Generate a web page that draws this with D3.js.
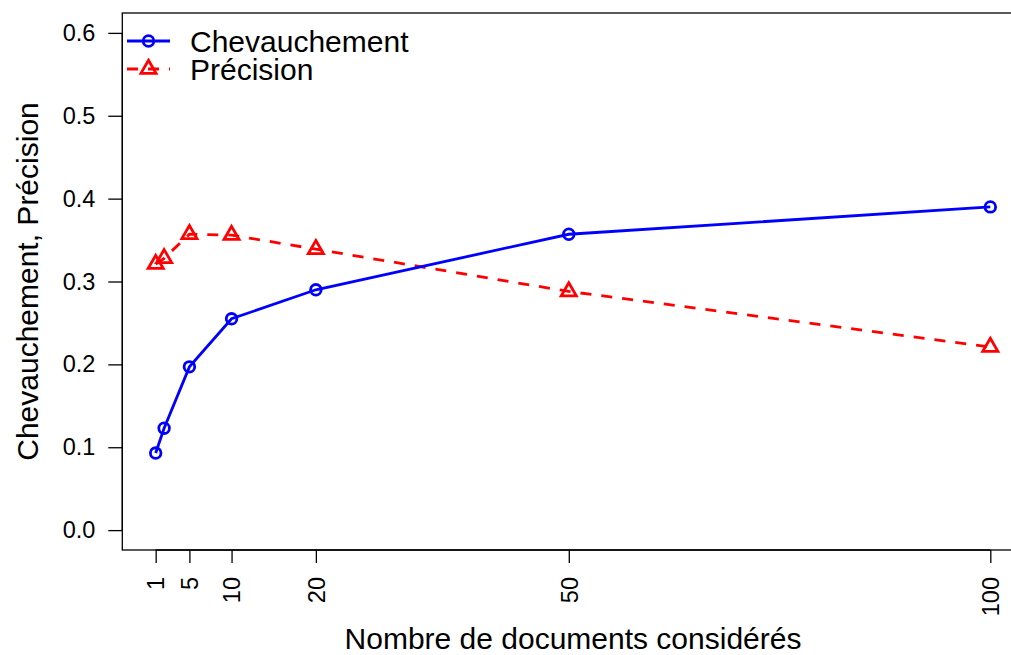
<!DOCTYPE html>
<html><head><meta charset="utf-8">
<script src="https://cdn.jsdelivr.net/npm/d3@7"></script>
<style>html,body{margin:0;padding:0;background:#fff}svg{display:block}text{font-family:"Liberation Sans",Arial,Helvetica,sans-serif}</style>
</head><body>
<script>
const xValues = [1, 2, 5, 10, 20, 50, 100];
const chevauchement = [0.093, 0.123, 0.197, 0.255, 0.290, 0.357, 0.390];
const precision = [0.321, 0.328, 0.357, 0.356, 0.339, 0.288, 0.221];
const xTicks = [1, 5, 10, 20, 50, 100];
const yTicks = [0.0, 0.1, 0.2, 0.3, 0.4, 0.5, 0.6];
const seriesNames = ["Chevauchement", "Précision"];
const xTitle = "Nombre de documents considérés";
const yTitle = "Chevauchement, Précision";

const W = 1011, H = 655;
const svg = d3.select("body").append("svg").attr("width", W).attr("height", H);

const x = d3.scaleLinear().domain([1 - 99 * 0.04, 100 + 99 * 0.04]).range([122.3, 1023.7]);
const y = d3.scaleLinear().domain([0 - 0.6 * 0.04, 0.6 + 0.6 * 0.04]).range([550, 13]);

const tickFont = 23.5, titleFont = 30;

// box
svg.append("rect").attr("x", x.range()[0]).attr("y", y.range()[1])
  .attr("width", x.range()[1] - x.range()[0]).attr("height", y.range()[0] - y.range()[1])
  .attr("fill", "none").attr("stroke", "#000").attr("stroke-width", 1.3);

// y axis
const yAxis = svg.append("g").attr("transform", `translate(${x.range()[0]},0)`)
  .call(d3.axisLeft(y).tickValues(yTicks).tickFormat(d3.format(".1f")).tickSize(14).tickPadding(13));
yAxis.select(".domain").attr("d", `M0,${y(0)}V${y(0.6)}`).attr("stroke-width", 1.3);
yAxis.selectAll(".tick line").attr("stroke-width", 1.3);
yAxis.selectAll(".tick text").attr("font-size", tickFont).attr("fill", "#000")
  .attr("font-family", '"Liberation Sans",Arial,sans-serif');

// x axis
const xAxis = svg.append("g").attr("transform", `translate(0,${y.range()[0]})`)
  .call(d3.axisBottom(x).tickValues(xTicks).tickFormat(d3.format("d")).tickSize(13).tickPadding(13));
xAxis.select(".domain").attr("d", `M${x(1)},0H${x(100)}`).attr("stroke-width", 1.3);
xAxis.selectAll(".tick line").attr("stroke-width", 1.3);
xAxis.selectAll(".tick text").attr("font-size", tickFont).attr("fill", "#000")
  .attr("font-family", '"Liberation Sans",Arial,sans-serif')
  .attr("transform", "rotate(-90)").attr("text-anchor", "end")
  .attr("x", -27).attr("y", 0).attr("dy", "0.35em");

// titles
const cx = (x.range()[0] + x.range()[1]) / 2;
const cy = (y.range()[0] + y.range()[1]) / 2;
svg.append("text").attr("x", cx).attr("y", 649).attr("text-anchor", "middle")
  .attr("font-size", titleFont).text(xTitle);
svg.append("text").attr("transform", `translate(38,${cy}) rotate(-90)`).attr("text-anchor", "middle")
  .attr("font-size", titleFont).text(yTitle);

// lines
const lw = 2.8;
const line = d3.line().x(d => x(d[0])).y(d => y(d[1]));
const blueData = xValues.map((v, i) => [v, chevauchement[i]]);
const redData = xValues.map((v, i) => [v, precision[i]]);

function triPath(r) {
  // R pch=2 geometry
  const t0 = r * 1.5551, t1 = r * 1.3468, t2 = r * 0.7776;
  return `M0,${-t0}L${t1},${t2}L${-t1},${t2}Z`;
}

svg.append("path").datum(redData).attr("d", line).attr("fill", "none")
  .attr("stroke", "#ff0000").attr("stroke-width", lw).attr("stroke-dasharray", "11,10");
svg.append("path").datum(blueData).attr("d", line).attr("fill", "none")
  .attr("stroke", "#0000ff").attr("stroke-width", lw);

svg.selectAll(".pt-red").data(redData).enter().append("path")
  .attr("transform", d => `translate(${x(d[0])},${y(d[1])})`)
  .attr("d", triPath(5.6)).attr("fill", "none").attr("stroke", "#ff0000").attr("stroke-width", lw);
svg.selectAll(".pt-blue").data(blueData).enter().append("circle")
  .attr("cx", d => x(d[0])).attr("cy", d => y(d[1])).attr("r", 5.3)
  .attr("fill", "none").attr("stroke", "#0000ff").attr("stroke-width", lw);

// legend
const lg = svg.append("g");
const lx0 = 127, lx1 = 170, lmx = 148.5, ly = [41, 69];
lg.append("line").attr("x1", lx0).attr("x2", lx1).attr("y1", ly[0]).attr("y2", ly[0])
  .attr("stroke", "#0000ff").attr("stroke-width", lw);
lg.append("circle").attr("cx", lmx).attr("cy", ly[0]).attr("r", 5.3)
  .attr("fill", "none").attr("stroke", "#0000ff").attr("stroke-width", lw);
lg.append("line").attr("x1", lx0).attr("x2", lx1).attr("y1", ly[1]).attr("y2", ly[1])
  .attr("stroke", "#ff0000").attr("stroke-width", lw).attr("stroke-dasharray", "11,10");
lg.append("path").attr("transform", `translate(${lmx},${ly[1]})`).attr("d", triPath(5.6))
  .attr("fill", "none").attr("stroke", "#ff0000").attr("stroke-width", lw);
seriesNames.forEach((n, i) => {
  lg.append("text").attr("x", 190).attr("y", ly[i]).attr("dy", "0.35em")
    .attr("font-size", titleFont).text(n);
});
</script>
</body></html>
